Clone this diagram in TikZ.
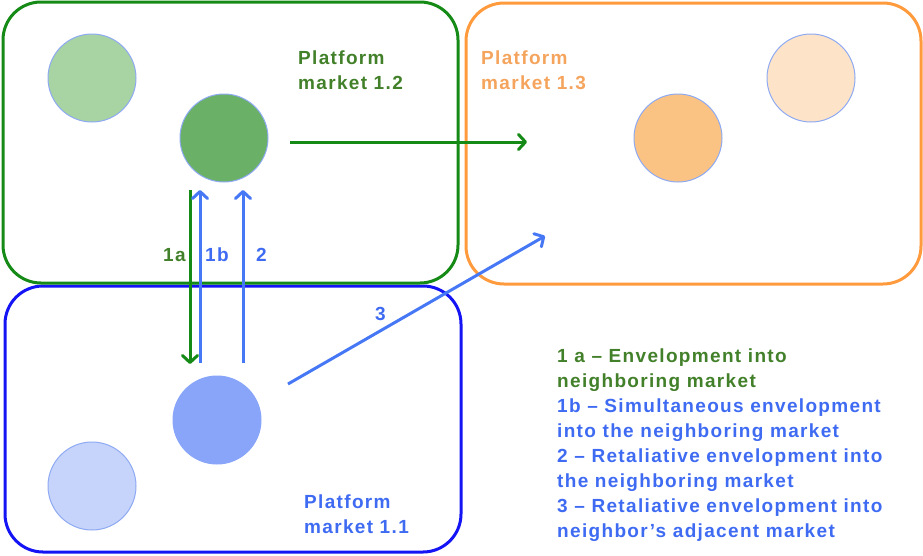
\documentclass[tikz,border=0pt]{standalone}
\usepackage{fontspec}
\setmainfont{Liberation Sans}[LetterSpace=7]
\usetikzlibrary{arrows.meta}
\definecolor{gLine}{HTML}{168A16}
\definecolor{gText}{HTML}{42802A}
\definecolor{bRect}{HTML}{1414F5}
\definecolor{bArr}{HTML}{4678F6}
\definecolor{bText}{HTML}{3E6BF2}
\definecolor{oLine}{HTML}{FF9A3D}
\definecolor{oText}{HTML}{F4A45C}
\definecolor{cLG}{HTML}{A8D3A2}
\definecolor{cDG}{HTML}{6AB066}
\definecolor{cO}{HTML}{FAC384}
\definecolor{cLO}{HTML}{FDE4C8}
\definecolor{cMB}{HTML}{88A5FA}
\definecolor{cLB}{HTML}{C6D4FC}
\definecolor{cBd}{HTML}{8EAAF2}
\tikzset{
  market/.style={line width=3pt, rounded corners=38pt},
  player/.style={circle, draw=cBd, line width=1pt, minimum size=88pt, inner sep=0pt},
  move/.style={line width=3pt, -{Straight Barb[length=7pt,width=15pt,line cap=round,line join=round]}},
  lbl/.style={font=\bfseries\fontsize{19}{25}\selectfont, inner sep=0pt},
  tag/.style={lbl, anchor=base west},
  block/.style={lbl, align=left, anchor=north west}
}
\begin{document}
\begin{tikzpicture}[x=1pt,y=-1pt]
\useasboundingbox (0,0) rectangle (923,555);
% markets
\draw[market, draw=oLine] (466,3) rectangle (921,284);
\draw[market, draw=bRect] (5,286) rectangle (461,552);
\draw[market, draw=gLine] (3,2) rectangle (458,283);
% players
\node[player, fill=cLG] (lg) at (92,78) {};
\node[player, fill=cDG] (dg) at (224,138) {};
\node[player, fill=cO] (org) at (678,138) {};
\node[player, fill=cLO] (lorg) at (811,78) {};
\node[player, fill=cMB, draw=cMB] (mb) at (217,420) {};
\node[player, fill=cLB] (lb) at (92,486) {};
% arrow end points
\coordinate (a1s) at (190,190);
\coordinate (a1e) at (190,364);
\coordinate (b1s) at (200,363);
\coordinate (b1e) at (200,190);
\coordinate (b2s) at (243,363);
\coordinate (b2e) at (243,190);
\coordinate (gs) at (290,142);
\coordinate (ge) at (527,142);
\coordinate (b3s) at (288,384);
\coordinate (b3e) at (545,236);
% arrows
\draw[move, draw=gLine] (gs) -- (ge);
\draw[move, draw=gLine] (a1s) -- (a1e);
\draw[move, draw=bArr] (b1s) -- (b1e);
\draw[move, draw=bArr] (b2s) -- (b2e);
\draw[move, draw=bArr] (b3s) -- (b3e);
% arrow labels
\node[tag, text=gText] (t1a) at (163,261) {1a};
\node[tag, text=bText] (t1b) at (205,261) {1b};
\node[tag, text=bText] (t2) at (256,261) {2};
\node[tag, text=bText] (t3) at (375,320) {3};
% market labels
\node[block, text=gText] (m12) at (298,50.3) {Platform\\market 1.2};
\node[block, text=oText] (m13) at (481,50.3) {Platform\\market 1.3};
\node[block, text=bText] (m11) at (304,494.3) {Platform\\market 1.1};
% legend
\node[block, text=bText] (legend) at (557,348.3) {%
\textcolor{gText}{1 a – Envelopment into}\\
\textcolor{gText}{neighboring market}\\
1b – Simultaneous envelopment\\
into the neighboring market\\
2 – Retaliative envelopment into\\
the neighboring market\\
3 – Retaliative envelopment into\\
neighbor's adjacent market};
\end{tikzpicture}
\end{document}
